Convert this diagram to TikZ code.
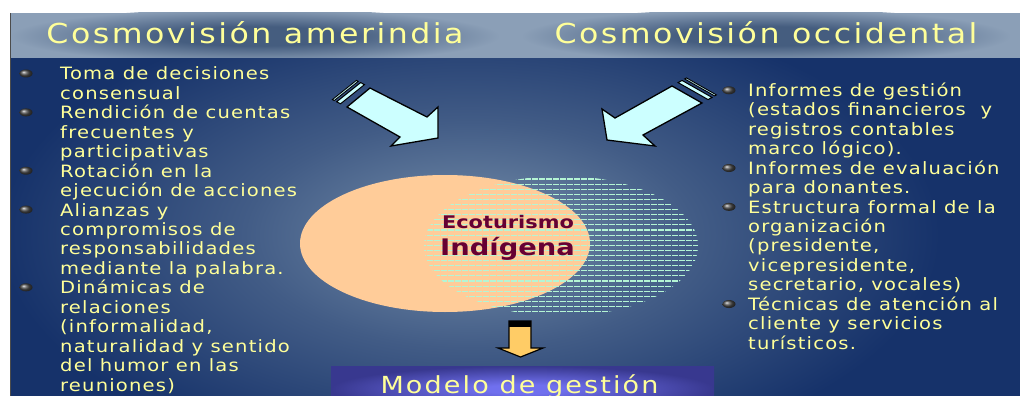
\documentclass[tikz,border=0pt]{standalone}
\usepackage{fontspec}
\setmainfont{DejaVu Sans}
\newfontfamily\bodyfont[FakeStretch=1.15,LetterSpace=7]{DejaVu Sans}
\newfontfamily\titlefont[FakeStretch=1.15,LetterSpace=9]{DejaVu Sans}
\newfontfamily\ecofont[FakeStretch=1.2]{DejaVu Sans}
\usetikzlibrary{shapes.geometric}
\definecolor{bgA}{HTML}{6A83A2}
\definecolor{bgB}{HTML}{425C86}
\definecolor{bgC}{HTML}{16326A}
\definecolor{bandc}{HTML}{8B9FB7}
\definecolor{glowc}{HTML}{455D7F}
\definecolor{txty}{HTML}{FFFF99}
\definecolor{peach}{HTML}{FFCC99}
\definecolor{maroon}{HTML}{660033}
\definecolor{mint}{HTML}{B4F5D4}
\definecolor{lcyan}{HTML}{CCFFFF}
\definecolor{gold}{HTML}{FFCC66}
\definecolor{boxin}{HTML}{7070EE}
\definecolor{boxout}{HTML}{38388F}
\pgfdeclareradialshading{bgrad}{\pgfpointorigin}{color(0bp)=(bgA); color(3bp)=(bgA); color(12bp)=(bgB); color(25bp)=(bgC); color(50bp)=(bgC)}
\pgfdeclareradialshading{glow}{\pgfpointorigin}{color(0bp)=(glowc); color(9bp)=(glowc); color(25bp)=(bandc); color(50bp)=(bandc)}
\pgfdeclareradialshading{boxrad}{\pgfpointorigin}{color(0bp)=(boxin); color(5bp)=(boxin); color(25bp)=(boxout); color(50bp)=(boxout)}
\begin{document}
\begin{tikzpicture}[x=1pt,y=-1pt,
  bodytxt/.style={anchor=base west,inner sep=0pt,text=txty,font=\bodyfont\fontsize{17}{19}\selectfont},
  titletxt/.style={anchor=base,inner sep=0pt,text=txty,font=\titlefont\fontsize{27.5}{30}\selectfont},
  bullet/.style={ellipse,minimum width=13pt,minimum height=8pt,inner sep=0pt,shade,ball color=gray!60!black},
  bigarrow/.style={draw=black,line width=1.3pt,fill=lcyan,line join=miter},
  goldarrow/.style={draw=black,line width=1.2pt,fill=gold,line join=miter},
  hatch/.style={mint,line width=1.1pt,dash pattern=on 6pt off 1pt}]
\useasboundingbox (0,0) rectangle (1020,396);
\fill[white] (0,0) rectangle (1020,396);
% main background
\begin{scope}
  \clip (10,58) rectangle (1020,396);
  \fill[bgC] (10,58) rectangle (1020,396);
  \shade[shading=bgrad] (470,235) ellipse [x radius=470pt,y radius=235pt];
\end{scope}
% title band
\fill[bandc] (10,13) rectangle (1020,58);
\begin{scope}
  \clip (10,13) rectangle (1020,58);
  \shade[shading=glow] (255,36) ellipse [x radius=245pt,y radius=27pt];
  \shade[shading=glow] (766,36) ellipse [x radius=245pt,y radius=27pt];
\end{scope}
\draw[gray!60!black,line width=0.8pt] (10.4,13) -- (10.4,396);
\node (t1) [titletxt] at (255,44) {Cosmovisión amerindia};
\node (t2) [titletxt] at (766,44) {Cosmovisión occidental};
% left column
\foreach \t [count=\i from 0] in {Toma de decisiones,consensual,Rendición de cuentas,frecuentes y,participativas,Rotación en la,ejecución de acciones,Alianzas y,compromisos de,responsabilidades,mediante la palabra.,Dinámicas de,relaciones,{(informalidad,},naturalidad y sentido,del humor en las,reuniones)}
  \node (L\i) [bodytxt] at (60,{80+19.44*\i}) {\t};
\foreach \i in {0,2,5,7,11}
  \node (bl\i) [bullet] at (26,{73.5+19.44*\i}) {};
% right column
\foreach \t [count=\i from 0] in {Informes de gestión,{(estados financieros~ y},registros contables ,marco lógico).,Informes de evaluación,para donantes.,Estructura formal de la,organización,{(presidente,},{vicepresidente,},{secretario, vocales)},Técnicas de atención al,cliente y servicios,turísticos.}
  \node (R\i) [bodytxt] at (748,{96.5+19.43*\i}) {\t};
\foreach \i in {0,4,6,11}
  \node (br\i) [bullet] at (729,{90.3+19.43*\i}) {};
% left big arrow
\draw[bigarrow] (347,107) -- (370,88) -- (427,117) -- (438,107) -- (438,138) -- (391,146) -- (400,137) -- cycle;
\draw[bigarrow,line width=1pt] (340.5,103.8) -- (364.5,84.6) -- (360.6,82.6) -- (336.6,101.8) -- cycle;
\draw[bigarrow,line width=0.9pt] (334.2,100.6) -- (358.2,81.4) -- (356.4,80.4) -- (332.4,99.6) -- cycle;
% right big arrow
\draw[bigarrow] (702,103) -- (672,86) -- (615,118) -- (602,109) -- (607,140) -- (655,146) -- (643,135) -- cycle;
\draw[bigarrow,line width=1pt] (678.1,82.6) -- (708.1,99.6) -- (712.0,97.4) -- (682.0,80.4) -- cycle;
\draw[bigarrow,line width=0.9pt] (684.6,78.9) -- (714.6,95.9) -- (716.4,94.9) -- (686.4,77.9) -- cycle;
% central ellipse
\node (eco) [ellipse,fill=peach,minimum width=290pt,minimum height=137pt,inner sep=0pt] at (445,243.5) {};
\begin{scope}
  \clip (561,246) ellipse [x radius=137pt,y radius=70pt];
  \foreach \yy in {179,184.1,...,314}
    \draw[hatch] (420,\yy) -- (702,\yy);
\end{scope}
\node (ecot) [anchor=base,inner sep=0pt,text=maroon,font=\ecofont\bfseries\fontsize{17.4}{20}\selectfont] at (508,228.3) {Ecoturismo};
\node (indi) [anchor=base,inner sep=0pt,text=maroon,font=\ecofont\bfseries\fontsize{22.8}{26}\selectfont] at (507.5,255.7) {Indígena};
% down arrow
\draw[goldarrow] (509,321) -- (531,321) -- (531,348) -- (543,348) -- (520.5,357) -- (498,348) -- (509,348) -- cycle;
\fill[black] (509,321) rectangle (531,326.5);
% bottom box
\begin{scope}
  \clip (0,0) rectangle (1020,396);
  \shade[shading=boxrad] (331,366) rectangle (714,412);
  \node (modelo) [titletxt,font=\titlefont\fontsize{23.5}{26}\selectfont] at (519.5,393) {Modelo de gestión};
\end{scope}
\end{tikzpicture}
\end{document}
